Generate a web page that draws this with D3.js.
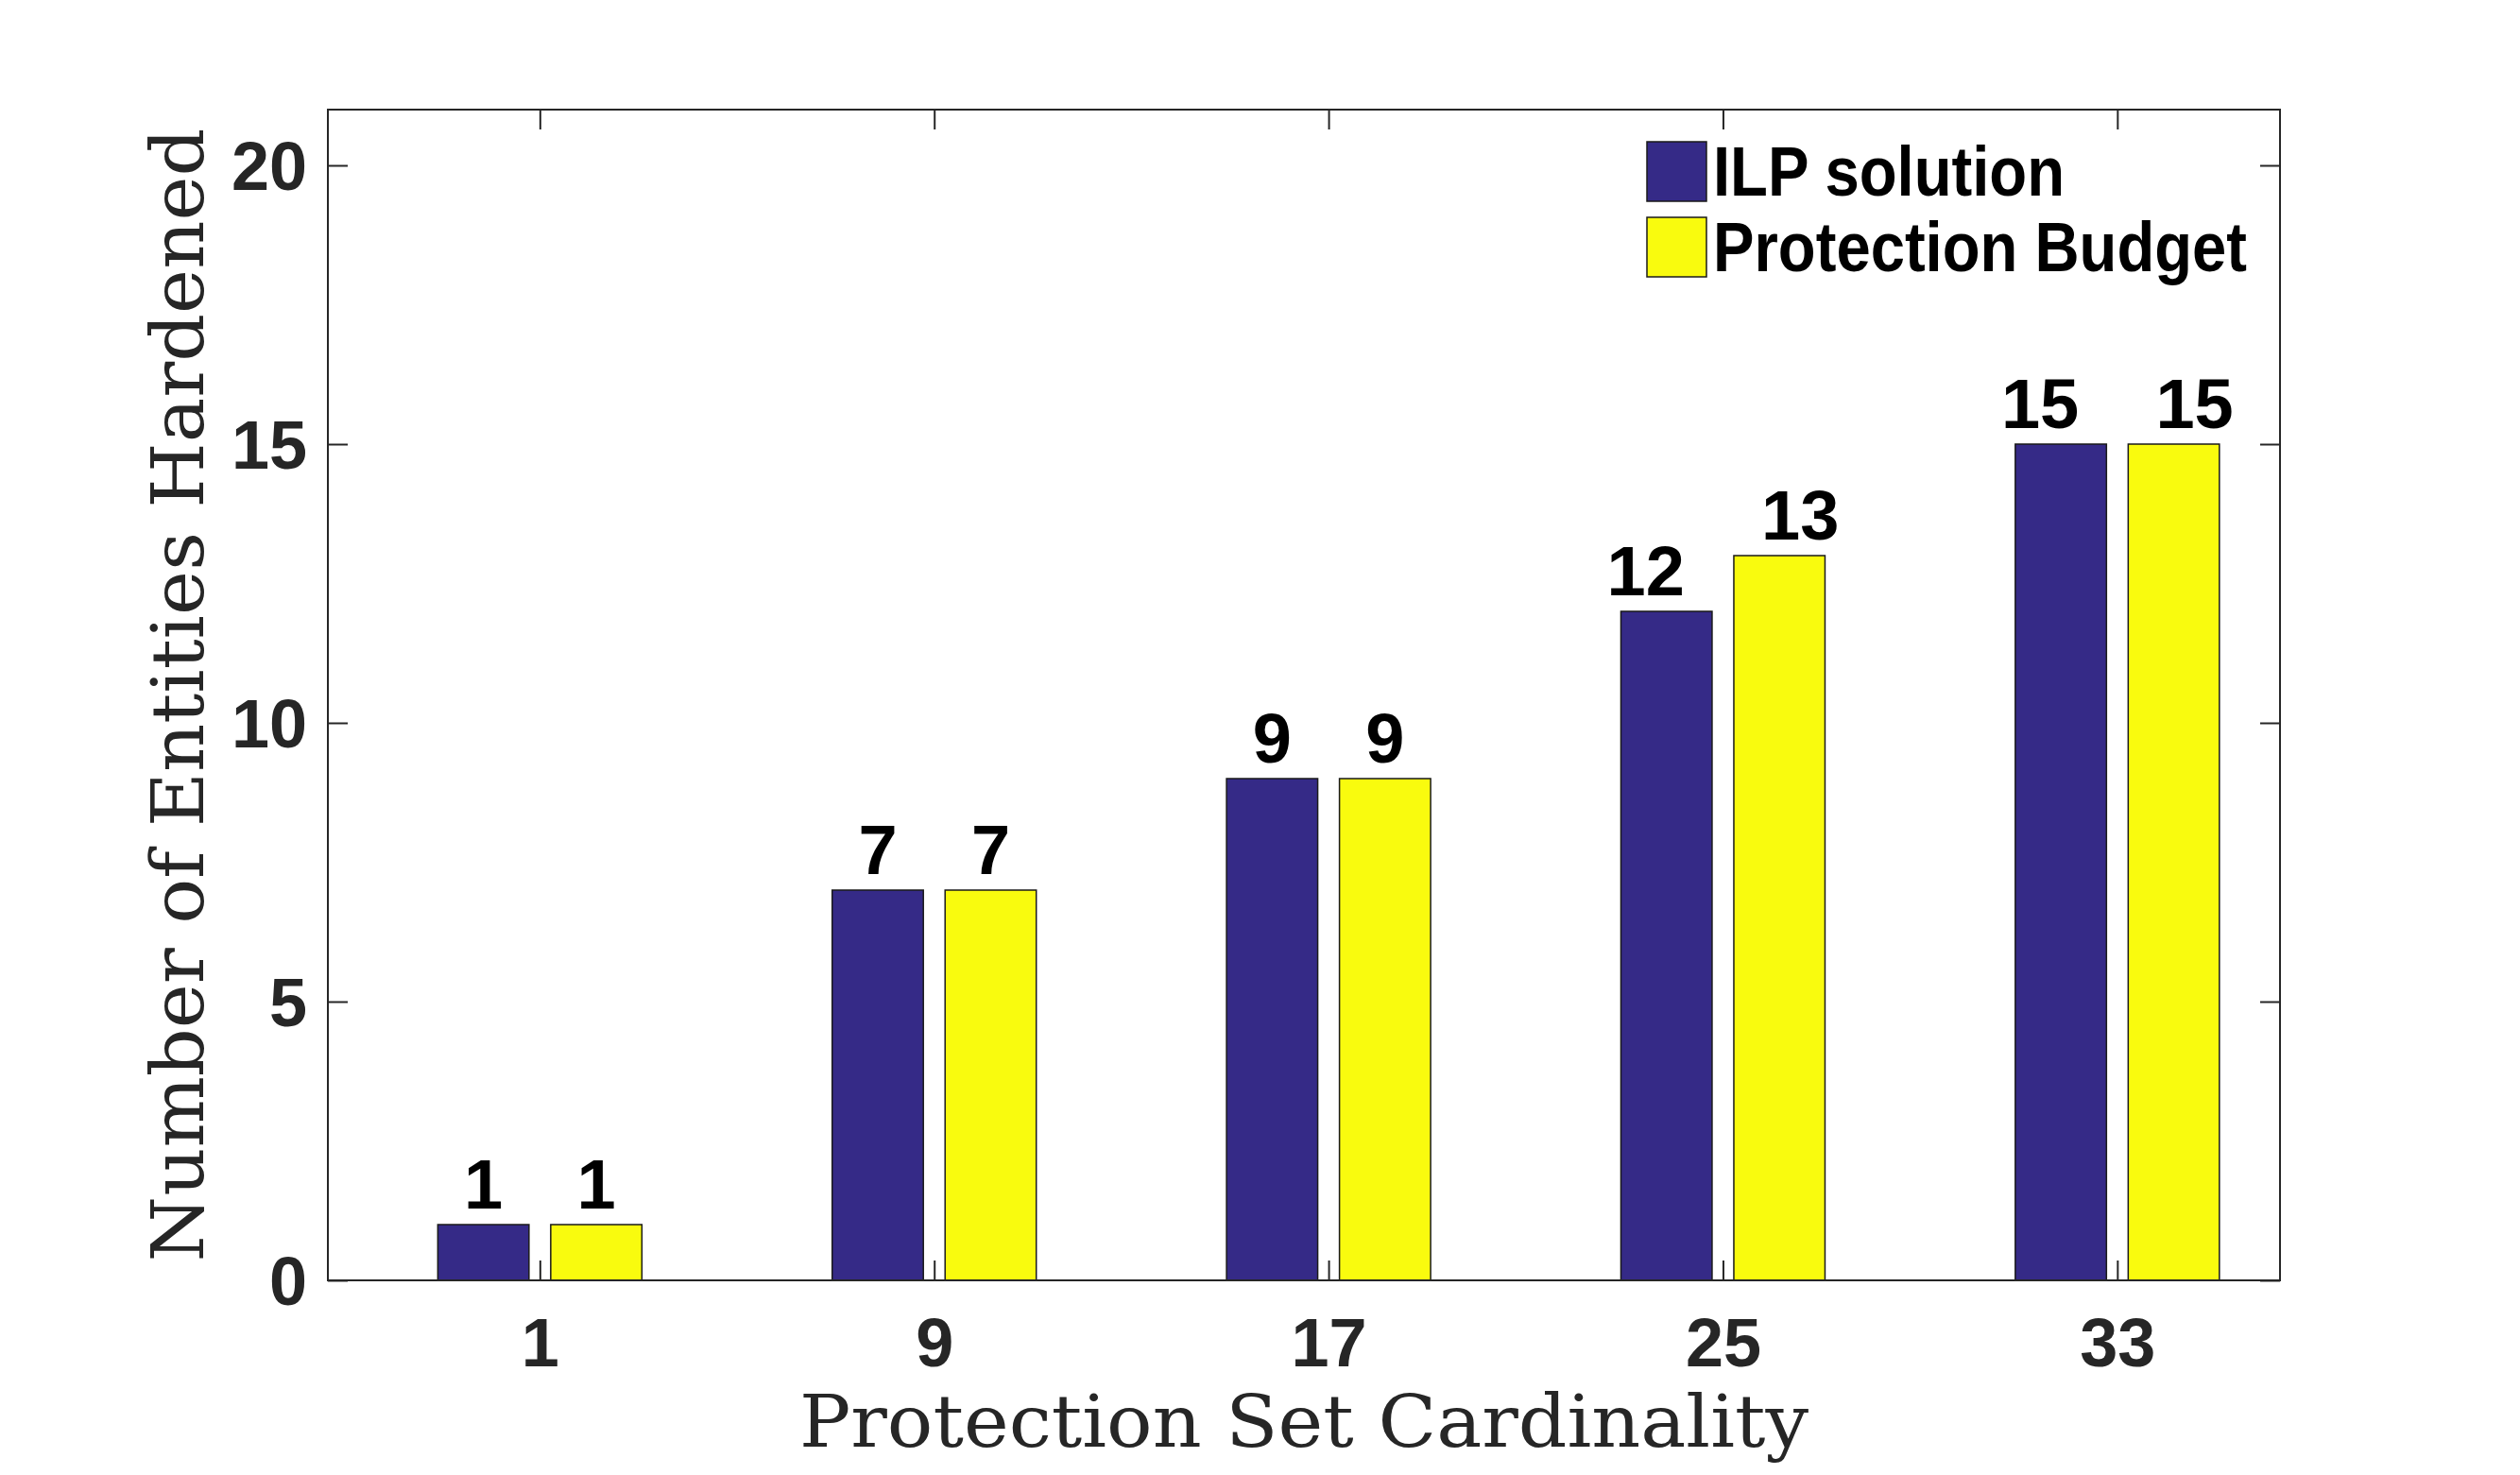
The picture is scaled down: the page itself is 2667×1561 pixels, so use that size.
<!DOCTYPE html>
<html>
<head>
<meta charset="utf-8">
<script src="https://cdn.jsdelivr.net/npm/d3@7"></script>
<style>
    body { margin: 0; background: white; }
</style>
</head>
<body>
<div id="canvas"></div>
<script>
"use strict"

// chart data
let categories = [1, 9, 17, 25, 33];
let seriesNames = ["ILP solution", "Protection Budget"];
let ilpValues = [1, 7, 9, 12, 15];
let budgetValues = [1, 7, 9, 13, 15];
let yTickValues = [0, 5, 10, 15, 20];

let svgWidth = 2667;
let svgHeight = 1561;

let marginLeft = 347;
let marginRight = 254;
let marginTop = 116;
let marginBottom = 206;

let axisColor = "#262626";
let colors = ["#352a87", "#f9fb0e"];

let svg = d3.select("#canvas")
    .append("svg")
    .attr("width", svgWidth)
    .attr("height", svgHeight);

svg.append("rect")
    .attr("width", svgWidth)
    .attr("height", svgHeight)
    .attr("fill", "white");

let plotRight = svgWidth - marginRight;
let plotBottom = svgHeight - marginBottom;

// x in data units (matches the matlab xlim), y counts
let xScale = d3.scaleLinear()
    .domain([-3.3, 36.3])
    .range([marginLeft, plotRight]);

let yScale = d3.scaleLinear()
    .domain([0, 21])
    .range([plotBottom, marginTop]);

// offsets of the two bars inside one group, in pixels
let innerScale = d3.scaleBand()
    .domain(seriesNames)
    .range([-108, 108])
    .paddingInner(0.1925);

let seriesValues = [ilpValues, budgetValues];

// one row per bar
let bars = [];
for (let s = 0; s < seriesNames.length; s++) {
    for (let i = 0; i < categories.length; i++) {
        bars.push({
            series: seriesNames[s],
            index: s,
            color: colors[s],
            cat: categories[i],
            value: seriesValues[s][i]
        });
    }
}

svg.selectAll("rect.bar")
    .data(bars)
    .join("rect")
    .attr("class", "bar")
    .attr("x", function(d) { return xScale(d.cat) + innerScale(d.series); })
    .attr("y", function(d) { return yScale(d.value); })
    .attr("width", innerScale.bandwidth())
    .attr("height", function(d) { return yScale(0) - yScale(d.value); })
    .attr("fill", function(d) { return d.color; })
    .attr("stroke", "#1a1a1a")
    .attr("stroke-width", 1.5);

// value labels on top of each bar
// (two digit labels sit a bit outwards of the bar centre, like the original)
svg.selectAll("text.valueLabel")
    .data(bars)
    .join("text")
    .attr("class", "valueLabel")
    .attr("x", function(d) {
        let cx = xScale(d.cat) + innerScale(d.series) + innerScale.bandwidth() / 2;
        if (d.value >= 10) {
            cx += d.index == 0 ? -22 : 22;
        }
        return cx;
    })
    .attr("y", function(d) { return yScale(d.value) - 17; })
    .attr("text-anchor", "middle")
    .attr("font-family", "Liberation Sans, Arial, sans-serif")
    .attr("font-weight", "bold")
    .attr("font-size", 74)
    .attr("fill", "black")
    .text(function(d) { return d.value; });

// axes box
svg.append("rect")
    .attr("x", marginLeft)
    .attr("y", marginTop)
    .attr("width", plotRight - marginLeft)
    .attr("height", plotBottom - marginTop)
    .attr("fill", "none")
    .attr("stroke", axisColor)
    .attr("stroke-width", 2);

// bottom axis, ticks pointing inwards
let xAxis = d3.axisBottom(xScale)
    .tickValues(categories)
    .tickSize(-21)
    .tickPadding(40)
    .tickFormat(d3.format("d"));

let xAxisGroup = svg.append("g")
    .attr("transform", "translate(0," + plotBottom + ")")
    .call(xAxis);

// top mirror ticks
let xAxisTop = svg.append("g")
    .attr("transform", "translate(0," + marginTop + ")")
    .call(d3.axisTop(xScale).tickValues(categories).tickSize(-21).tickFormat(""));

// left axis
let yAxis = d3.axisLeft(yScale)
    .tickValues(yTickValues)
    .tickSize(-21)
    .tickPadding(22)
    .tickFormat(d3.format("d"));

let yAxisGroup = svg.append("g")
    .attr("transform", "translate(" + marginLeft + ",0)")
    .call(yAxis);

// right mirror ticks
let yAxisRight = svg.append("g")
    .attr("transform", "translate(" + plotRight + ",0)")
    .call(d3.axisRight(yScale).tickValues(yTickValues).tickSize(-21).tickFormat(""));

// style all axes the same
svg.selectAll(".domain").remove();
svg.selectAll(".tick line")
    .attr("stroke", axisColor)
    .attr("stroke-width", 2);
svg.selectAll(".tick text")
    .attr("fill", axisColor)
    .attr("font-family", "Liberation Sans, Arial, sans-serif")
    .attr("font-weight", "bold")
    .attr("font-size", 72);
yAxisGroup.selectAll(".tick text")
    .attr("dy", "0.36em");
xAxisGroup.selectAll(".tick text")
    .attr("dy", "0.71em");

// axis labels
svg.append("text")
    .attr("x", (marginLeft + plotRight) / 2)
    .attr("y", 1531)
    .attr("text-anchor", "middle")
    .attr("font-family", "DejaVu Serif, Liberation Serif, serif")
    .attr("font-size", 76)
    .attr("fill", axisColor)
    .attr("textLength", 1068)
    .attr("lengthAdjust", "spacingAndGlyphs")
    .text("Protection Set Cardinality");

svg.append("text")
    .attr("transform", "translate(215," + (marginTop + plotBottom) / 2 + ") rotate(-90)")
    .attr("text-anchor", "middle")
    .attr("font-family", "DejaVu Serif, Liberation Serif, serif")
    .attr("font-size", 76)
    .attr("fill", axisColor)
    .attr("textLength", 1200)
    .attr("lengthAdjust", "spacingAndGlyphs")
    .text("Number of Entities Hardened");

// legend, no box
let legendX = 1743;
let legendY = 150;
let legendRow = 80;
let legendTextWidths = [372, 565];

for (let i = 0; i < seriesNames.length; i++) {
    let rowY = legendY + i * legendRow;
    svg.append("rect")
        .attr("x", legendX)
        .attr("y", rowY)
        .attr("width", 63)
        .attr("height", 63)
        .attr("fill", colors[i])
        .attr("stroke", "#1a1a1a")
        .attr("stroke-width", 1.5);
    svg.append("text")
        .attr("x", legendX + 70)
        .attr("y", rowY + 57)
        .attr("font-family", "Liberation Sans, Arial, sans-serif")
        .attr("font-weight", "bold")
        .attr("font-size", 74)
        .attr("fill", "black")
        .attr("textLength", legendTextWidths[i])
        .attr("lengthAdjust", "spacingAndGlyphs")
        .text(seriesNames[i]);
}
</script>
</body>
</html>
